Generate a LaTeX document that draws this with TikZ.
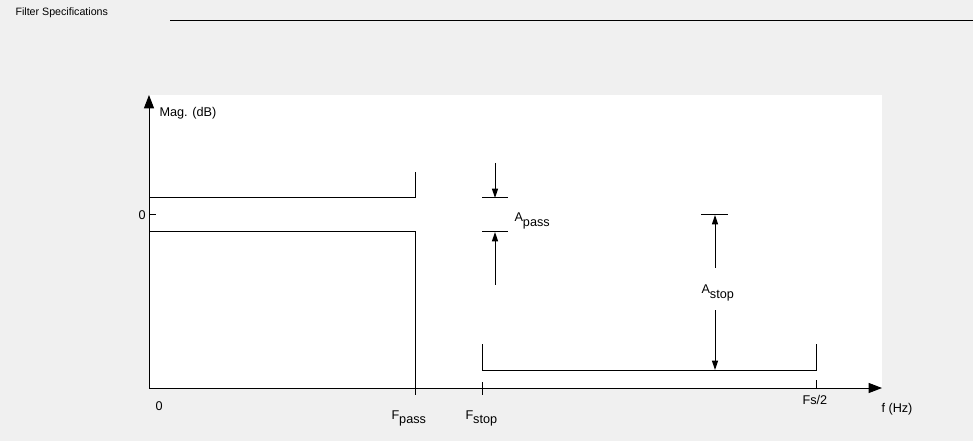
\documentclass[tikz,border=0pt]{standalone}
\usepackage{fontspec}
\setmainfont{Liberation Sans}
\usetikzlibrary{arrows.meta}
\definecolor{panelgray}{HTML}{F0F0F0}

\begin{document}
\begin{tikzpicture}[x=0.75pt, y=-0.75pt, line width=0.75pt,
  lbl/.style={font=\fontsize{9.5}{11}\selectfont, inner sep=0pt},
  axisarrow/.style={-{Triangle[length=10pt,width=7.5pt]}},
  dimarrow/.style={-{Triangle[length=7pt,width=4.5pt]}}]

%-----------------------
% 参数：频率位置与幅度位置（像素）
%-----------------------
\def\Fpass{415}   % 通带边缘
\def\Fstop{482}   % 阻带边缘
\def\Fhalf{816}   % Fs/2
\def\Yup{198}     % 通带上限
\def\Ylo{232}     % 通带下限
\def\Yzero{215}   % 0 dB
\def\Ystop{370}   % 阻带电平

%-----------------------
% 背景与绘图区
%-----------------------
\useasboundingbox (0,0) rectangle (973,441);
\fill[panelgray] (0,0) rectangle (973,441);
\fill[white] (149,95) rectangle (882,388);

\node[font=\fontsize{8}{9}\selectfont, inner sep=0pt, anchor=base west]
  (title) at (15,16) {Filter Specifications};
\coordinate (R0) at (170,21);
\coordinate (R1) at (973,21);
\draw (R0) -- (R1);

%-----------------------
% 坐标轴
%-----------------------
\coordinate (O)    at (149,388);
\coordinate (Ytop) at (149,95);
\coordinate (Xend) at (882,388);
\draw[axisarrow] (O) -- (Ytop);
\draw[axisarrow] (O) -- (Xend);

\draw (149,\Yzero) -- (156,\Yzero);      % 0 dB 刻度
\draw (\Fstop,382) -- (\Fstop,395);      % F_stop 刻度
\draw (\Fhalf,380) -- (\Fhalf,388);      % Fs/2 刻度

%-----------------------
% 通带与阻带
%-----------------------
\draw (149,\Yup) -- (\Fpass,\Yup) -- (\Fpass,172);
\draw (149,\Ylo) -- (\Fpass,\Ylo) -- (\Fpass,395);
\draw (\Fstop,344) -- (\Fstop,\Ystop) -- (\Fhalf,\Ystop) -- (\Fhalf,344);

%-----------------------
% A_pass 与 A_stop 标注
%-----------------------
\draw (482,\Yup) -- (508,\Yup);
\draw (482,\Ylo) -- (508,\Ylo);
\draw[dimarrow] (495,163) -- (495,\Yup);
\draw[dimarrow] (495,285) -- (495,\Ylo);

\draw (701,\Yzero) -- (728,\Yzero);
\draw[dimarrow] (715,268) -- (715,\Yzero);
\draw[dimarrow] (715,310) -- (715,\Ystop);

%-----------------------
% 文字
%-----------------------
\node[lbl, anchor=base west] (ylab)   at (159,117) {Mag. (dB)};
\node[lbl, anchor=base west] (yzero)  at (138,220) {0};
\node[lbl, anchor=base west] (xzero)  at (155,410) {0};
\node[lbl, anchor=base west] (fpass)  at (391,419) {F\raisebox{-3pt}{pass}};
\node[lbl, anchor=base west] (fstop)  at (465,419) {F\raisebox{-3pt}{stop}};
\node[lbl, anchor=base west] (fhalf)  at (802,404) {Fs/2};
\node[lbl, anchor=base west] (xlab)   at (881,412) {f (Hz)};
\node[lbl, anchor=base west] (apass)  at (514,222) {A\raisebox{-3.5pt}{pass}};
\node[lbl, anchor=base west] (astop)  at (701,294) {A\raisebox{-3.5pt}{stop}};

\end{tikzpicture}
\end{document}
